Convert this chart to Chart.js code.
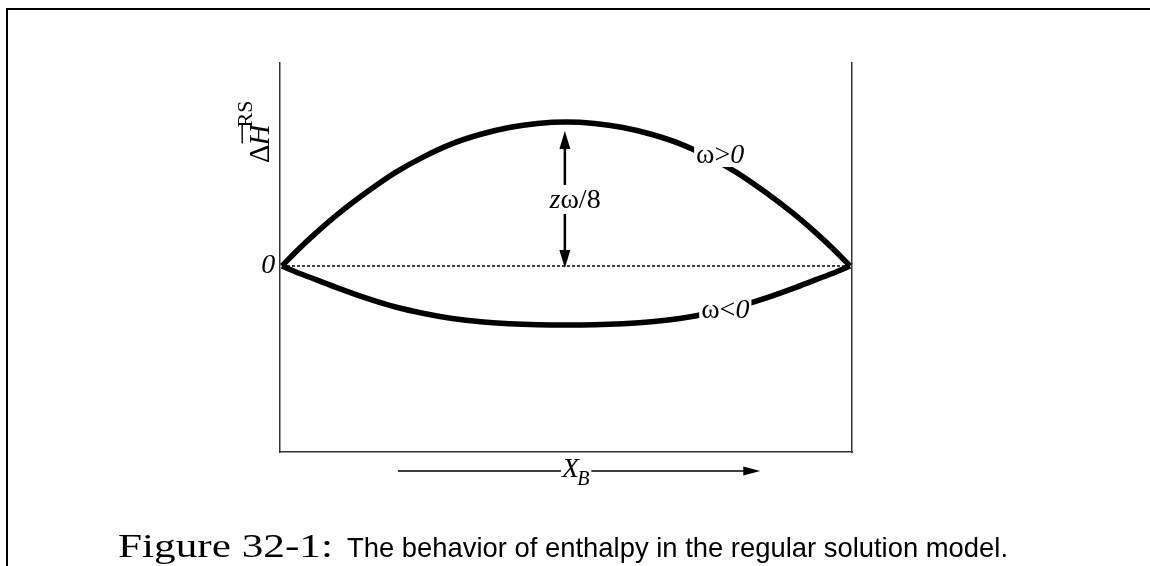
<!DOCTYPE html>
<html>
<head>
<meta charset="utf-8">
<script src="https://cdn.jsdelivr.net/npm/chart.js@4.4.1/dist/chart.umd.min.js"></script>
<style>
  html, body { margin: 0; padding: 0; background: #ffffff; }
  #wrap { width: 1150px; height: 566px; position: relative; }
</style>
</head>
<body>
<div id="wrap"><canvas id="c" width="1150" height="566"></canvas></div>
<script>
// ---- data ----
const xValues     = [0, 0.03, 0.06, 0.1, 0.15, 0.2, 0.25, 0.3, 0.35, 0.4, 0.45, 0.5, 0.55, 0.6, 0.65, 0.7, 0.75, 0.8, 0.85, 0.9, 0.94, 0.97, 1];
const upperValues = [0, 0.12, 0.23, 0.365, 0.515, 0.65, 0.76, 0.85, 0.915, 0.962, 0.99, 1.0, 0.99, 0.962, 0.915, 0.85, 0.76, 0.65, 0.515, 0.365, 0.23, 0.12, 0];
const lowerValues = [0, -0.05, -0.095, -0.155, -0.225, -0.285, -0.33, -0.365, -0.388, -0.401, -0.408, -0.41, -0.408, -0.401, -0.388, -0.365, -0.33, -0.285, -0.225, -0.155, -0.095, -0.05, 0];
const zeroX       = [0, 1];
const zeroY       = [0, 0];
const peakX       = [0.498, 0.498];
const peakY       = [-0.014, 0.9375];
const seriesLabels = ['ω>0', 'ω<0'];
const peakLabel   = 'zω/8';
const yTickLabel  = '0';
const xAxisLabel  = 'X';
const xAxisSub    = 'B';
const captionHead = 'Figure 32-1:';
const captionBody = 'The behavior of enthalpy in the regular solution model.';

const SERIF = '"Liberation Serif", "Times New Roman", serif';
const SANS  = '"Liberation Sans", Arial, sans-serif';

const toPts = (xs, ys) => xs.map((x, i) => ({ x: x, y: ys[i] }));

const annotations = {
  id: 'annotations',
  beforeDraw(chart) {
    const ctx = chart.ctx;
    ctx.save();
    ctx.fillStyle = '#ffffff';
    ctx.fillRect(0, 0, chart.width, chart.height);
    // page frame (top + left)
    ctx.fillStyle = '#000';
    ctx.fillRect(6, 8, 1144, 2);
    ctx.fillRect(6, 8, 2, 558);
    ctx.restore();
  },
  afterDatasetsDraw(chart) {
    const ctx = chart.ctx;
    const sx = chart.scales.x, sy = chart.scales.y;
    const X = v => sx.getPixelForValue(v);
    const Y = v => sy.getPixelForValue(v);
    ctx.save();
    ctx.fillStyle = '#000';
    ctx.strokeStyle = '#000';

    // --- vertical double arrow (peak height) ---
    const ax = X(peakX[0]);
    const yb = Y(peakY[0]), yt = Y(peakY[1]);
    const headL = 18, headW = 5.5;
    ctx.lineWidth = 2.5;
    ctx.beginPath();
    ctx.moveTo(ax, yt + headL - 1);
    ctx.lineTo(ax, yb - headL + 1);
    ctx.stroke();
    ctx.beginPath();
    ctx.moveTo(ax, yt); ctx.lineTo(ax - headW, yt + headL); ctx.lineTo(ax + headW, yt + headL); ctx.closePath(); ctx.fill();
    ctx.beginPath();
    ctx.moveTo(ax, yb); ctx.lineTo(ax - headW, yb - headL); ctx.lineTo(ax + headW, yb - headL); ctx.closePath(); ctx.fill();

    // label zω/8 centred slightly right of the arrow
    {
      const base = Y(0.403);
      const cx = X(0.516);
      const fs = 28;
      ctx.font = 'italic ' + fs + 'px ' + SERIF;
      const wz = ctx.measureText('z').width;
      ctx.font = fs + 'px ' + SERIF;
      const wr = ctx.measureText('ω/8').width;
      const w = wz + wr;
      const left = cx - w / 2;
      ctx.fillStyle = '#fff';
      ctx.fillRect(left - 2, base - 23, w + 4, 29);
      ctx.fillStyle = '#000';
      ctx.textBaseline = 'alphabetic';
      ctx.textAlign = 'left';
      ctx.font = 'italic ' + fs + 'px ' + SERIF;
      ctx.fillText('z', left, base);
      ctx.font = fs + 'px ' + SERIF;
      ctx.fillText('ω/8', left + wz, base);
    }

    // series labels with white box breaking the curve
    function omegaLabel(txt, xv, yv, boxTop, boxBot) {
      const fs = 28;
      const left = X(xv), base = Y(yv);
      const head = txt.slice(0, 2), tail = txt.slice(2);
      ctx.font = fs + 'px ' + SERIF;
      const w1 = ctx.measureText(head).width;
      ctx.font = 'italic ' + fs + 'px ' + SERIF;
      const w2 = ctx.measureText(tail).width;
      ctx.fillStyle = '#fff';
      ctx.fillRect(left - 2, base - boxTop, w1 + w2 + 4, boxTop + boxBot);
      ctx.fillStyle = '#000';
      ctx.textAlign = 'left';
      ctx.textBaseline = 'alphabetic';
      ctx.font = fs + 'px ' + SERIF;
      ctx.fillText(head, left, base);
      ctx.font = 'italic ' + fs + 'px ' + SERIF;
      ctx.fillText(tail, left + w1, base);
    }
    omegaLabel(seriesLabels[0], 0.729, 0.715, 22, 4);
    omegaLabel(seriesLabels[1], 0.738, -0.361, 23, 4);

    // y tick "0"
    ctx.font = 'italic 28px ' + SERIF;
    ctx.textAlign = 'right';
    ctx.textBaseline = 'alphabetic';
    ctx.fillText(yTickLabel, X(-0.012), Y(-0.049));

    // y axis title: Δ H-bar ^RS (rotated)
    {
      ctx.save();
      ctx.translate(X(-0.022), Y(0.715));
      ctx.rotate(-Math.PI / 2);
      ctx.textAlign = 'left';
      ctx.textBaseline = 'alphabetic';
      ctx.font = '29px ' + SERIF;
      ctx.fillText('Δ', 0, 0);
      const wd = ctx.measureText('Δ').width;
      ctx.font = 'italic 29px ' + SERIF;
      ctx.fillText('H', wd - 1, 0);
      const wh = ctx.measureText('H').width;
      ctx.fillRect(wd + 1, -28, wh - 1, 1.4);
      ctx.font = '22px ' + SERIF;
      ctx.fillText('RS', wd + wh - 4, -17);
      ctx.restore();
    }

    // x direction arrow with X_B
    {
      const ly = Y(-1.424);
      const x0 = X(0.204), x1 = X(0.842);
      ctx.font = 'italic 28px ' + SERIF;
      const wX = ctx.measureText(xAxisLabel).width;
      ctx.font = 'italic 20px ' + SERIF;
      const wB = ctx.measureText(xAxisSub).width;
      const tl = X(0.493);
      ctx.lineWidth = 1.5;
      ctx.beginPath();
      ctx.moveTo(x0, ly); ctx.lineTo(tl - 1, ly);
      ctx.moveTo(tl + wX + wB, ly); ctx.lineTo(x1 - 14, ly);
      ctx.stroke();
      ctx.beginPath();
      ctx.moveTo(x1, ly); ctx.lineTo(x1 - 17, ly - 4.5); ctx.lineTo(x1 - 17, ly + 4.5); ctx.closePath(); ctx.fill();
      ctx.textAlign = 'left';
      ctx.textBaseline = 'alphabetic';
      ctx.font = 'italic 28px ' + SERIF;
      ctx.fillText(xAxisLabel, tl, ly + 6);
      ctx.font = 'italic 20px ' + SERIF;
      ctx.fillText(xAxisSub, tl + wX - 2, ly + 14);
    }
    ctx.restore();
  },
  afterDraw(chart) {
    const ctx = chart.ctx;
    ctx.save();
    ctx.fillStyle = '#000';
    ctx.textAlign = 'left';
    ctx.textBaseline = 'alphabetic';
    ctx.font = '33px ' + SERIF;
    const w1 = ctx.measureText(captionHead).width;
    ctx.save();
    ctx.translate(118, 557);
    ctx.scale(215 / w1, 1);
    ctx.fillText(captionHead, 0, 0);
    ctx.restore();
    ctx.font = '28px ' + SANS;
    const w2 = ctx.measureText(captionBody).width;
    ctx.save();
    ctx.translate(347, 557);
    ctx.scale(661 / w2, 1);
    ctx.fillText(captionBody, 0, 0);
    ctx.restore();
    ctx.restore();
  }
};

const axisCommon = {
  display: true,
  grid: { display: false, drawTicks: false },
  ticks: { display: false },
  border: { display: true, color: '#333', width: 1.5 }
};

new Chart(document.getElementById('c'), {
  type: 'scatter',
  data: {
    datasets: [
      { label: seriesLabels[0], data: toPts(xValues, upperValues), showLine: true, borderColor: '#000', borderWidth: 5.5, pointRadius: 0, cubicInterpolationMode: 'monotone', fill: false },
      { label: seriesLabels[1], data: toPts(xValues, lowerValues), showLine: true, borderColor: '#000', borderWidth: 5.5, pointRadius: 0, cubicInterpolationMode: 'monotone', fill: false },
      { label: 'zero', data: toPts(zeroX, zeroY), showLine: true, borderColor: '#000', borderWidth: 1.3, borderDash: [3, 2], pointRadius: 0, fill: false }
    ]
  },
  options: {
    responsive: false,
    animation: false,
    events: [],
    layout: { padding: { left: 280, top: 63, right: 298, bottom: 114 } },
    plugins: { legend: { display: false }, tooltip: { enabled: false }, title: { display: false } },
    scales: {
      x: Object.assign({}, axisCommon, { type: 'linear', position: 'bottom', min: -0.0035, max: 1.0035 }),
      y: Object.assign({}, axisCommon, { type: 'linear', position: 'left', min: -1.292, max: 1.41 }),
      y2: Object.assign({}, axisCommon, { type: 'linear', position: 'right', min: -1.292, max: 1.41 })
    }
  },
  plugins: [annotations]
});
</script>
</body>
</html>
